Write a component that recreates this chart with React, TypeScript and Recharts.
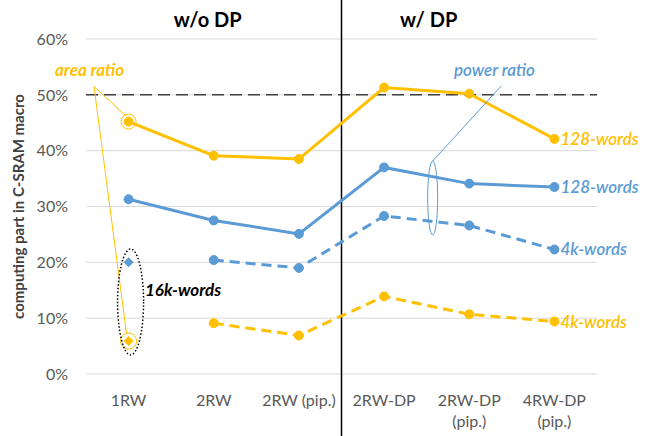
import {
  Line,
  LineChart,
  ReferenceLine,
  XAxis,
  YAxis,
  CartesianGrid,
} from "recharts";

// categories on the x axis ("\n" = line break in tick)
const categories = ["1RW", "2RW", "2RW (pip.)", "2RW-DP", "2RW-DP\n(pip.)", "4RW-DP\n(pip.)"];

// % of C-SRAM macro
const area128 = [45.2, 39.1, 38.5, 51.3, 50.2, 42.1];
const power128 = [31.3, 27.5, 25.1, 37.0, 34.1, 33.5];
const power4k = [null, 20.4, 19.0, 28.3, 26.6, 22.3];
const area4k = [null, 9.1, 6.9, 13.9, 10.7, 9.4];
const power16k = [20.0, null, null, null, null, null];
const area16k = [5.9, null, null, null, null, null];

const yTicks = [0, 10, 20, 30, 40, 50, 60];

const data = categories.map((cat, i) => ({
  cat,
  area128: area128[i],
  power128: power128[i],
  power4k: power4k[i],
  area4k: area4k[i],
  power16k: power16k[i],
  area16k: area16k[i],
}));

const W = 656;
const H = 436;
const M = { top: 39, right: 59, bottom: 0, left: 0 };
const Y_AXIS_W = 86;
const X_AXIS_H = 62;

const YELLOW = "#FFC000";
const BLUE = "#5B9BD5";
const GREY = "#595959";
const FONT = "Lato, 'Open Sans', sans-serif";

// plot area, only used to place the hand-drawn callouts
const plotL = M.left + Y_AXIS_W;
const plotR = W - M.right;
const plotT = M.top;
const plotB = H - M.bottom - X_AXIS_H;
const band = (plotR - plotL) / categories.length;
const xOf = (i: number) => plotL + band * (i + 0.5);
const yOf = (v: number) => plotB - ((plotB - plotT) * v) / 60;

function XTick({ x, y, payload }: any) {
  const lines = String(payload.value).split("\n");
  return (
    <text x={x} y={y + 24} textAnchor="middle" fill={GREY} fontSize={16} fontFamily={FONT}>
      {lines.map((l, i) => (
        <tspan key={i} x={x} dy={i === 0 ? 0 : 21}>
          {l}
        </tspan>
      ))}
    </text>
  );
}

function Diamond({ cx, cy, value, fill }: any) {
  if (value == null || cx == null || cy == null) return null;
  const s = 5;
  return (
    <path
      d={`M${cx},${cy - s}L${cx + s},${cy}L${cx},${cy + s}L${cx - s},${cy}Z`}
      fill={fill}
    />
  );
}

// text label next to the last point of a series
function endLabel(text: string, color: string) {
  return (props: any) => {
    const { x, y, index } = props;
    if (index !== categories.length - 1) return null;
    return (
      <text
        key={`lbl${text}${color}`}
        x={x + 6}
        y={y + 6}
        fill={color}
        fontSize={17}
        fontStyle="italic"
        fontWeight={600}
        fontFamily={FONT}
      >
        {text}
      </text>
    );
  };
}

function Callouts() {
  const apexA = { x: plotL + 8, y: yOf(51.5) };
  const apexP = { x: xOf(4) + 32, y: yOf(51.6) };
  const ellP = { x: xOf(3) + band / 2 + 6, y: yOf(31.5) };
  return (
    <svg
      width={W}
      height={H}
      style={{ position: "absolute", left: 0, top: 0, pointerEvents: "none" }}
    >
      {/* titles */}
      <text x={xOf(1) - 6} y={27} textAnchor="middle" fontSize={20} fontWeight={700} fontFamily={FONT}>
        w/o DP
      </text>
      <text x={xOf(3) + band / 2 + 2} y={27} textAnchor="middle" fontSize={20} fontWeight={700} fontFamily={FONT}>
        w/ DP
      </text>

      {/* y axis title */}
      <text
        transform={`translate(24, ${(plotT + plotB) / 2}) rotate(-90)`}
        textAnchor="middle"
        fontSize={15}
        fontWeight={700}
        fill="#404040"
        fontFamily={FONT}
      >
        computing part in C-SRAM macro
      </text>

      {/* area ratio callout */}
      <text x={55} y={yOf(54.4) + 6} fill={YELLOW} fontSize={17} fontStyle="italic" fontWeight={700} fontFamily={FONT}>
        area ratio
      </text>
      <line x1={apexA.x} y1={apexA.y} x2={xOf(0) - 3} y2={yOf(45.2) - 6} stroke={YELLOW} strokeWidth={1} />
      <line x1={apexA.x} y1={apexA.y} x2={xOf(0) - 2} y2={yOf(5.9) - 7} stroke={YELLOW} strokeWidth={1} />
      <circle cx={xOf(0)} cy={yOf(45.2)} r={7.5} fill="none" stroke={YELLOW} strokeWidth={1} />
      <circle cx={xOf(0)} cy={yOf(5.9)} r={8} fill="none" stroke={YELLOW} strokeWidth={1} />

      {/* 16k-words group */}
      <ellipse
        cx={xOf(0) + 2}
        cy={yOf(12.9)}
        rx={13}
        ry={53}
        fill="none"
        stroke="#000"
        strokeWidth={1.5}
        strokeDasharray="1.5 2"
      />
      <text x={145} y={yOf(15) + 6} fill="#000" fontSize={17} fontStyle="italic" fontWeight={700} fontFamily={FONT}>
        16k-words
      </text>

      {/* power ratio callout */}
      <text x={454} y={yOf(54.4) + 6} fill={BLUE} fontSize={17} fontStyle="italic" fontWeight={600} fontFamily={FONT}>
        power ratio
      </text>
      <line x1={apexP.x} y1={apexP.y} x2={ellP.x} y2={ellP.y - 37} stroke={BLUE} strokeWidth={1} />
      <ellipse cx={ellP.x} cy={ellP.y} rx={5} ry={37} fill="none" stroke={BLUE} strokeWidth={1} />
    </svg>
  );
}

export default function App() {
  return (
    <div style={{ position: "absolute", left: 0, top: 0, width: W, height: H, background: "#fff" }}>
      <LineChart width={W} height={H} data={data} margin={M}>
        <CartesianGrid vertical={false} stroke="#d9d9d9" strokeWidth={1} />
        <XAxis
          dataKey="cat"
          scale="band"
          interval={0}
          axisLine={false}
          tickLine={false}
          height={X_AXIS_H}
          tick={<XTick />}
        />
        <YAxis
          domain={[0, 60]}
          ticks={yTicks}
          width={Y_AXIS_W}
          axisLine={false}
          tickLine={false}
          tickMargin={12}
          tickFormatter={(v: number) => `${v}%`}
          tick={{ fill: GREY, fontSize: 16, fontFamily: FONT }}
        />
        <ReferenceLine y={50} stroke="#404040" strokeWidth={1.5} strokeDasharray="12 6" />
        <ReferenceLine
          x="2RW-DP"
          position="start"
          stroke="#000"
          strokeWidth={1.5}
          shape={(p: any) => (
            <line x1={p.x1} x2={p.x2} y1={0} y2={H} stroke="#000" strokeWidth={1.5} />
          )}
        />

        <Line
          dataKey="area128"
          stroke={YELLOW}
          strokeWidth={3}
          dot={{ r: 4.5, fill: YELLOW, stroke: YELLOW, strokeWidth: 1 }}
          label={endLabel("128-words", YELLOW)}
          isAnimationActive={false}
        />
        <Line
          dataKey="power128"
          stroke={BLUE}
          strokeWidth={3}
          dot={{ r: 4.5, fill: BLUE, stroke: BLUE, strokeWidth: 1 }}
          label={endLabel("128-words", BLUE)}
          isAnimationActive={false}
        />
        <Line
          dataKey="power4k"
          stroke={BLUE}
          strokeWidth={3}
          strokeDasharray="10 6"
          dot={{ r: 4.5, fill: BLUE, stroke: BLUE, strokeWidth: 1, strokeDasharray: "" }}
          label={endLabel("4k-words", BLUE)}
          isAnimationActive={false}
        />
        <Line
          dataKey="area4k"
          stroke={YELLOW}
          strokeWidth={3}
          strokeDasharray="10 6"
          dot={{ r: 4.5, fill: YELLOW, stroke: YELLOW, strokeWidth: 1, strokeDasharray: "" }}
          label={endLabel("4k-words", YELLOW)}
          isAnimationActive={false}
        />
        <Line
          dataKey="power16k"
          stroke="none"
          dot={(p: any) => <Diamond key={`pd${p.index}`} {...p} fill={BLUE} />}
          isAnimationActive={false}
        />
        <Line
          dataKey="area16k"
          stroke="none"
          dot={(p: any) => <Diamond key={`ad${p.index}`} {...p} fill={YELLOW} />}
          isAnimationActive={false}
        />
      </LineChart>
      <Callouts />
    </div>
  );
}
